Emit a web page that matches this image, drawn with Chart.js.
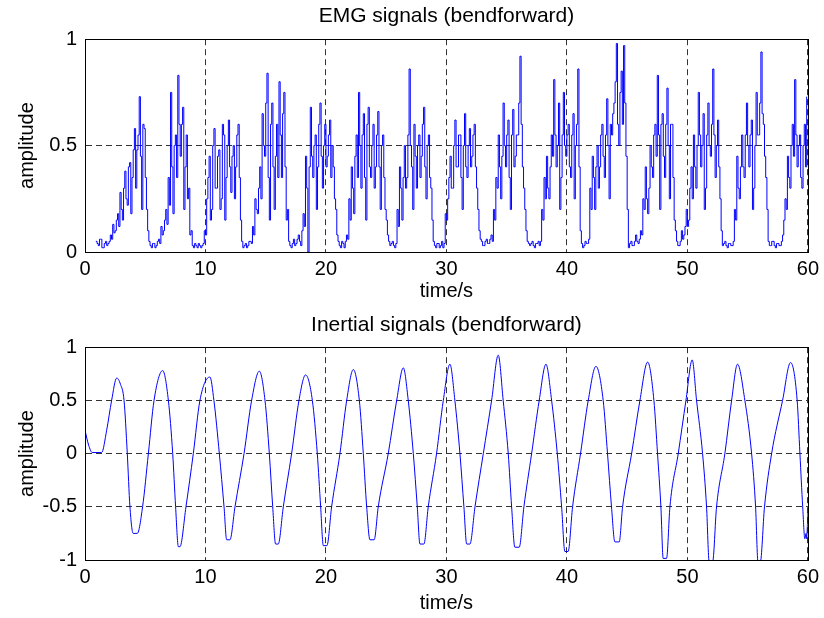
<!DOCTYPE html>
<html>
<head>
<meta charset="utf-8">
<script src="https://cdn.jsdelivr.net/npm/chart.js@4.4.1/dist/chart.umd.min.js"></script>
<style>
  html, body { margin: 0; padding: 0; background: #fff; }
  .panel { position: absolute; left: 0; width: 824px; height: 309px; }
</style>
</head>
<body>
<div class="panel" style="top:0"><canvas id="emgChart" width="824" height="309"></canvas></div>
<div class="panel" style="top:309px"><canvas id="inertialChart" width="824" height="309"></canvas></div>
<script>
// EMG samples, one every 0.1 s starting at 0.9 s
const EMG_START = 0.9;
const EMG_STEP = 0.1;
const emgValues = [
    0.05, 0.04, 0.03, 0.06, 0.06, 0.02, 0.02, 0.04, 0.05, 0.03,
    0.04, 0.05, 0.08, 0.06, 0.13, 0.09, 0.10, 0.15, 0.18, 0.12,
    0.28, 0.20, 0.15, 0.30, 0.38, 0.25, 0.22, 0.40, 0.42, 0.18,
    0.35, 0.48, 0.58, 0.30, 0.48, 0.55, 0.73, 0.45, 0.20, 0.60,
    0.58, 0.35, 0.20, 0.10, 0.05, 0.03, 0.02, 0.04, 0.04, 0.02,
    0.03, 0.05, 0.06, 0.04, 0.12, 0.08, 0.10, 0.15, 0.20, 0.13,
    0.35, 0.22, 0.75, 0.40, 0.18, 0.50, 0.55, 0.35, 0.83, 0.60,
    0.45, 0.60, 0.68, 0.20, 0.40, 0.55, 0.25, 0.30, 0.08, 0.10,
    0.03, 0.02, 0.04, 0.03, 0.02, 0.04, 0.03, 0.02, 0.03, 0.04,
    0.10, 0.08, 0.25, 0.35, 0.45, 0.15, 0.20, 0.50, 0.58, 0.30,
    0.30, 0.45, 0.48, 0.20, 0.25, 0.60, 0.55, 0.15, 0.35, 0.50,
    0.62, 0.40, 0.28, 0.45, 0.50, 0.25, 0.40, 0.55, 0.60, 0.35,
    0.15, 0.05, 0.02, 0.03, 0.04, 0.02, 0.03, 0.05, 0.05, 0.04,
    0.12, 0.08, 0.25, 0.20, 0.18, 0.30, 0.40, 0.25, 0.65, 0.50,
    0.45, 0.70, 0.84, 0.35, 0.15, 0.60, 0.70, 0.40, 0.20, 0.45,
    0.60, 0.35, 0.80, 0.55, 0.35, 0.65, 0.75, 0.40, 0.15, 0.20,
    0.05, 0.03, 0.02, 0.04, 0.06, 0.03, 0.04, 0.06, 0.08, 0.05,
    0.03, 0.10, 0.18, 0.12, 0.45, 0.30, 0.00, 0.40, 0.68, 0.45,
    0.35, 0.50, 0.55, 0.20, 0.40, 0.60, 0.70, 0.45, 0.30, 0.50,
    0.60, 0.40, 0.45, 0.55, 0.62, 0.35, 0.50, 0.40, 0.25, 0.20,
    0.08, 0.05, 0.03, 0.02, 0.05, 0.04, 0.02, 0.05, 0.08, 0.06,
    0.25, 0.15, 0.40, 0.30, 0.18, 0.45, 0.55, 0.35, 0.75, 0.50,
    0.30, 0.55, 0.65, 0.35, 0.15, 0.60, 0.68, 0.40, 0.35, 0.50,
    0.60, 0.30, 0.40, 0.55, 0.66, 0.40, 0.20, 0.50, 0.55, 0.35,
    0.20, 0.15, 0.08, 0.05, 0.03, 0.04, 0.05, 0.03, 0.02, 0.04,
    0.20, 0.12, 0.40, 0.30, 0.15, 0.35, 0.50, 0.30, 0.35, 0.55,
    0.86, 0.50, 0.40, 0.20, 0.60, 0.45, 0.30, 0.50, 0.55, 0.35,
    0.45, 0.60, 0.68, 0.40, 0.25, 0.50, 0.55, 0.35, 0.30, 0.15,
    0.05, 0.03, 0.02, 0.04, 0.04, 0.02, 0.03, 0.05, 0.02, 0.04,
    0.18, 0.15, 0.25, 0.35, 0.45, 0.30, 0.30, 0.50, 0.62, 0.40,
    0.40, 0.55, 0.55, 0.35, 0.20, 0.50, 0.65, 0.40, 0.35, 0.50,
    0.58, 0.40, 0.45, 0.55, 0.60, 0.40, 0.30, 0.20, 0.10, 0.06,
    0.05, 0.03, 0.03, 0.05, 0.06, 0.04, 0.04, 0.06, 0.08, 0.05,
    0.20, 0.15, 0.35, 0.30, 0.55, 0.40, 0.25, 0.45, 0.70, 0.50,
    0.40, 0.55, 0.62, 0.35, 0.20, 0.55, 0.67, 0.40, 0.45, 0.55,
    0.55, 0.70, 0.92, 0.60, 0.40, 0.30, 0.20, 0.10, 0.05, 0.04,
    0.03, 0.04, 0.05, 0.03, 0.02, 0.04, 0.04, 0.05, 0.03, 0.05,
    0.20, 0.15, 0.35, 0.25, 0.45, 0.30, 0.25, 0.40, 0.55, 0.45,
    0.81, 0.55, 0.40, 0.50, 0.70, 0.20, 0.35, 0.55, 0.75, 0.50,
    0.45, 0.55, 0.60, 0.40, 0.35, 0.55, 0.65, 0.25, 0.50, 0.60,
    0.86, 0.40, 0.10, 0.04, 0.02, 0.03, 0.05, 0.04, 0.04, 0.06,
    0.30, 0.20, 0.45, 0.35, 0.20, 0.40, 0.50, 0.30, 0.40, 0.55,
    0.60, 0.45, 0.35, 0.55, 0.72, 0.50, 0.25, 0.60, 0.55, 0.65,
    0.70, 0.80, 0.98, 0.60, 0.50, 0.75, 0.85, 0.60, 0.97, 0.70,
    0.45, 0.20, 0.02, 0.04, 0.05, 0.03, 0.03, 0.05, 0.08, 0.05,
    0.04, 0.06, 0.10, 0.08, 0.25, 0.20, 0.40, 0.25, 0.18, 0.30,
    0.50, 0.40, 0.35, 0.55, 0.60, 0.45, 0.83, 0.55, 0.20, 0.60,
    0.65, 0.45, 0.35, 0.60, 0.77, 0.50, 0.25, 0.60, 0.60, 0.35,
    0.15, 0.10, 0.05, 0.03, 0.03, 0.05, 0.10, 0.06, 0.08, 0.12,
    0.20, 0.12, 0.15, 0.30, 0.40, 0.25, 0.55, 0.40, 0.30, 0.50,
    0.75, 0.55, 0.40, 0.50, 0.65, 0.20, 0.30, 0.55, 0.70, 0.50,
    0.45, 0.60, 0.86, 0.55, 0.35, 0.50, 0.62, 0.40, 0.25, 0.10,
    0.03, 0.04, 0.05, 0.03, 0.02, 0.04, 0.04, 0.03, 0.03, 0.05,
    0.20, 0.15, 0.45, 0.30, 0.25, 0.40, 0.55, 0.40, 0.35, 0.55,
    0.70, 0.50, 0.40, 0.55, 0.62, 0.20, 0.30, 0.50, 0.75, 0.55,
    0.55, 0.70, 0.94, 0.65, 0.60, 0.45, 0.35, 0.20, 0.05, 0.03,
    0.03, 0.05, 0.05, 0.03, 0.02, 0.04, 0.04, 0.03, 0.03, 0.05,
    0.08, 0.15, 0.25, 0.20, 0.45, 0.35, 0.30, 0.50, 0.60, 0.45,
    0.81, 0.55, 0.40, 0.50, 0.55, 0.35, 0.30, 0.50, 0.60, 0.40,
    0.73
];

// Inertial signal: time (s) and amplitude at peaks, troughs and crossings
const inertialTime = [
    0, 0.3, 0.6, 1.38, 1.8, 2.21, 2.63, 2.95, 3.24, 3.51, 3.73, 4.0, 4.34,
    4.78, 5.26, 5.73, 6.45, 6.92, 7.28, 7.52, 7.75, 7.88,
    8.38, 8.99, 9.54, 10.37, 10.7, 11.15, 11.54, 11.76, 12.03,
    12.45, 13.2, 13.83, 14.47, 14.94, 15.3, 15.58, 15.82, 16.04,
    16.46, 17.15, 17.76, 18.31, 18.87, 19.28, 19.56, 19.78, 20.08,
    20.47, 21.16, 21.72, 22.27, 22.77, 23.1, 23.38, 23.65, 24.0,
    24.34, 25.17, 25.87, 26.42, 26.83, 27.25, 27.58, 27.8, 28.13,
    28.49, 29.18, 29.74, 30.29, 30.7, 31.12, 31.45, 31.68, 31.95,
    32.37, 33.06, 33.75, 34.3, 34.71, 35.13, 35.41, 35.68, 36.04,
    36.43, 37.07, 37.7, 38.26, 38.73, 39.2, 39.56, 39.83, 40.1,
    40.47, 41.13, 41.77, 42.41, 43.01, 43.37, 43.7, 43.98, 44.34,
    44.62, 45.37, 46.06, 46.7, 47.22, 47.52, 47.8, 47.99, 48.27,
    48.55, 49.24, 49.88, 50.4, 50.76, 51.26, 51.59, 51.81, 52.09,
    52.42, 53.11, 53.67, 54.16, 54.77, 55.33, 55.66, 55.86, 56.05,
    56.4, 56.99, 57.9, 58.56, 59.11, 59.34, 59.57, 59.75, 59.85, 59.9, 60
];
const inertialAmp = [
    0.22, 0.08, 0.01, 0.01, 0.22, 0.5, 0.71, 0.65, 0.5, 0, -0.5, -0.75, -0.75,
    -0.5, 0, 0.5, 0.78, 0.5, 0, -0.5, -0.875, -0.875,
    -0.5, 0, 0.5, 0.72, 0.5, 0, -0.5, -0.81, -0.81,
    -0.5, 0, 0.5, 0.775, 0.5, 0, -0.5, -0.85, -0.85,
    -0.5, 0, 0.5, 0.74, 0.5, 0, -0.5, -0.865, -0.865,
    -0.5, 0, 0.5, 0.79, 0.5, 0, -0.5, -0.81, -0.81,
    -0.5, 0, 0.5, 0.806, 0.5, 0, -0.5, -0.85, -0.85,
    -0.5, 0, 0.5, 0.84, 0.5, 0, -0.5, -0.85, -0.85,
    -0.5, 0, 0.5, 0.925, 0.5, 0, -0.5, -0.88, -0.88,
    -0.5, 0, 0.5, 0.84, 0.5, 0, -0.5, -0.92, -0.92,
    -0.5, 0, 0.5, 0.82, 0.5, 0, -0.5, -0.83, -0.83,
    -0.5, 0, 0.5, 0.86, 0.5, 0, -0.5, -0.985, -0.985,
    -0.5, 0, 0.5, 0.88, 0.5, 0, -0.5, -1.02, -1.02,
    -0.5, 0, 0.5, 0.84, 0.5, 0, -0.5, -1.02, -1.02,
    -0.5, 0, 0.5, 0.856, 0.5, 0, -0.5, -0.8, -0.75, -0.8, -0.55
];

const xTicks = [0, 10, 20, 30, 40, 50, 60];
const emgYTicks = [0, 0.5, 1];
const inertialYTicks = [-1, -0.5, 0, 0.5, 1];

const FONT = "'Liberation Sans', Arial, Helvetica, sans-serif";
const LINE_BLUE = '#0000ff';

// Solid black frame around the plot area (MATLAB style axes box)
const axesBoxPlugin = {
    id: 'axesBox',
    afterDatasetsDraw(chart) {
        const { ctx, chartArea } = chart;
        const l = Math.round(chartArea.left) + 0.5;
        const t = Math.round(chartArea.top) + 0.5;
        const r = Math.round(chartArea.right) + 0.5;
        const b = Math.round(chartArea.bottom) + 0.5;
        ctx.save();
        ctx.strokeStyle = '#000';
        ctx.lineWidth = 1;
        ctx.setLineDash([]);
        ctx.strokeRect(l, t, r - l, b - t);
        ctx.restore();
    }
};

/**
 * Build one subplot config
 */
function buildConfig(opts) {
    return {
        type: 'line',
        data: {
            datasets: [{
                data: opts.points,
                borderColor: LINE_BLUE,
                borderWidth: 1,
                pointRadius: 0,
                stepped: opts.stepped || false,
                tension: opts.smooth ? 0.4 : 0,
                cubicInterpolationMode: opts.smooth ? 'monotone' : 'default',
                fill: false
            }]
        },
        options: {
            responsive: false,
            animation: false,
            devicePixelRatio: 1,
            layout: { padding: { left: 0, right: 16, top: 0, bottom: 0 } },
            plugins: {
                legend: { display: false },
                tooltip: { enabled: false },
                title: {
                    display: true,
                    fullSize: false, // centre over the plot area, not the canvas
                    text: opts.title,
                    color: '#000',
                    font: { family: FONT, size: 21, weight: 'normal' },
                    padding: { top: opts.titleTop, bottom: opts.titleBottom }
                }
            },
            scales: {
                x: {
                    type: 'linear',
                    min: 0,
                    max: 60,
                    afterBuildTicks: s => { s.ticks = xTicks.map(v => ({ value: v })); },
                    afterFit: s => { s.height = opts.xAxisHeight; },
                    ticks: { color: '#000', font: { family: FONT, size: 20 }, padding: 5, maxRotation: 0 },
                    grid: { color: '#333', lineWidth: 1, drawTicks: false },
                    border: { display: true, color: '#000', dash: [6, 4] },
                    title: {
                        display: true,
                        text: 'time/s',
                        color: '#000',
                        font: { family: FONT, size: 20 },
                        padding: { top: 0, bottom: opts.xTitleBottom }
                    }
                },
                y: {
                    min: opts.yMin,
                    max: opts.yMax,
                    afterBuildTicks: s => { s.ticks = opts.yTicks.map(v => ({ value: v })); },
                    afterFit: s => { s.width = 85; },
                    ticks: {
                        color: '#000',
                        font: { family: FONT, size: 20 },
                        padding: 8,
                        callback: v => String(v)
                    },
                    grid: { color: '#333', lineWidth: 1, drawTicks: false },
                    border: { display: true, color: '#000', dash: [6, 4] },
                    title: {
                        display: true,
                        text: 'amplitude',
                        color: '#000',
                        font: { family: FONT, size: 20 },
                        padding: { top: 15, bottom: 0 }
                    }
                }
            }
        },
        plugins: [axesBoxPlugin]
    };
}

const emgPoints = emgValues.map((v, i) => ({ x: EMG_START + i * EMG_STEP, y: v }));
const inertialPoints = inertialTime.map((t, i) => ({ x: t, y: inertialAmp[i] }));

new Chart(document.getElementById('emgChart'), buildConfig({
    title: 'EMG signals (bendforward)',
    points: emgPoints,
    smooth: false,
    stepped: true,
    yMin: 0,
    yMax: 1,
    yTicks: emgYTicks,
    titleTop: 4,
    titleBottom: 10,
    xAxisHeight: 57,
    xTitleBottom: 6
}));

new Chart(document.getElementById('inertialChart'), buildConfig({
    title: 'Inertial signals (bendforward)',
    points: inertialPoints,
    smooth: true,
    yMin: -1,
    yMax: 1,
    yTicks: inertialYTicks,
    titleTop: 4,
    titleBottom: 9,
    xAxisHeight: 58,
    xTitleBottom: 3
}));
</script>
</body>
</html>
